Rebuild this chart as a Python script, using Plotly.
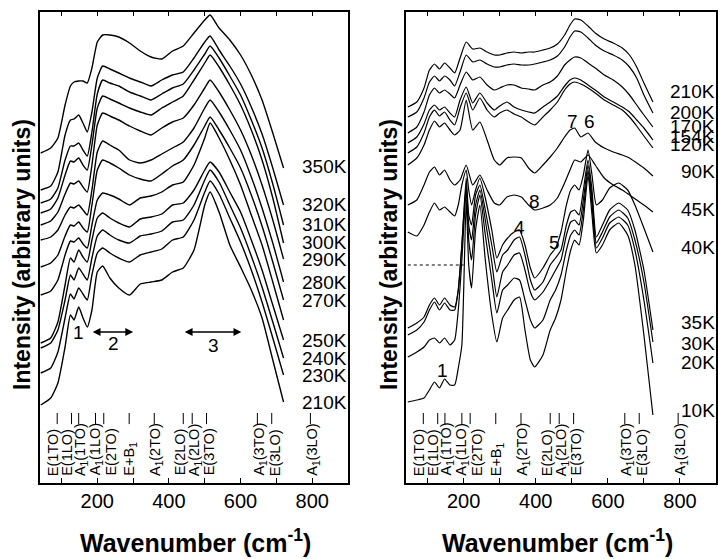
import plotly.graph_objects as go

FONT = "Liberation Sans, Arial, sans-serif"

# ---------------- Left panel (210 K - 350 K) ----------------
WN_LEFT = [42, 70, 90, 110, 125, 135, 148, 160, 172, 185, 200, 215, 235, 260, 290,
           320, 350, 380, 410, 440, 470, 500, 515, 540, 570, 600, 630, 660, 690, 720]

L350K = [327, 332, 342, 375, 394, 398, 399, 399, 397, 412, 438, 445, 445, 443, 437,
         429, 423, 421, 429, 434, 447, 460, 465, 452, 440, 425, 405, 380, 347, 312]
L320K = [290, 294, 308, 345, 360, 361, 365, 357, 348, 368, 402, 414, 411, 407, 402,
         398, 394, 400, 405, 408, 422, 438, 444, 430, 414, 396, 373, 346, 312, 275]
L310K = [277, 281, 292, 320, 334, 334, 337, 330, 324, 348, 386, 400, 397, 394, 388,
         384, 380, 386, 392, 396, 410, 426, 434, 422, 404, 385, 360, 332, 296, 255]
L300K = [267, 271, 282, 305, 319, 318, 322, 315, 310, 335, 372, 384, 381, 377, 372,
         368, 365, 372, 378, 384, 400, 417, 425, 413, 395, 375, 350, 320, 282, 237]
L290K = [255, 259, 268, 286, 297, 296, 299, 293, 288, 315, 355, 367, 364, 360, 354,
         349, 345, 352, 358, 362, 375, 392, 400, 388, 370, 350, 325, 295, 260, 221]
L280K = [240, 243, 250, 265, 273, 272, 275, 270, 265, 290, 328, 339, 335, 330, 320,
         317, 320, 326, 332, 338, 352, 372, 380, 368, 350, 330, 303, 272, 237, 198]
L270K = [213, 217, 225, 244, 255, 254, 258, 252, 248, 275, 310, 320, 317, 312, 305,
         301, 299, 306, 314, 320, 335, 354, 363, 350, 332, 312, 285, 254, 218, 180]
L260K = [185, 189, 200, 225, 239, 238, 242, 236, 232, 255, 280, 287, 285, 281, 275,
         282, 284, 288, 295, 298, 315, 342, 357, 342, 320, 295, 265, 235, 198, 160]
L250K = [137, 142, 158, 195, 222, 218, 230, 223, 218, 240, 262, 267, 262, 257, 253,
         261, 263, 266, 275, 277, 290, 310, 318, 308, 288, 268, 240, 210, 175, 140]
L240K = [132, 137, 150, 180, 205, 200, 212, 206, 200, 222, 244, 250, 245, 240, 237,
         244, 246, 249, 258, 260, 275, 300, 310, 298, 275, 252, 224, 193, 158, 122]
L230K = [107, 112, 128, 162, 186, 181, 192, 186, 180, 205, 227, 232, 227, 222, 218,
         225, 228, 231, 240, 243, 260, 288, 299, 286, 262, 238, 210, 178, 142, 105]
L210K = [75, 82, 97, 133, 165, 160, 173, 162, 153, 170, 208, 214, 202, 192, 185,
         196, 198, 200, 208, 212, 230, 275, 288, 268, 235, 213, 190, 162, 120, 78]

LEFT_SERIES = [("350K", L350K), ("320K", L320K), ("310K", L310K), ("300K", L300K),
               ("290K", L290K), ("280K", L280K), ("270K", L270K), ("", L260K),
               ("250K", L250K), ("240K", L240K), ("230K", L230K), ("210K", L210K)]

# ---------------- Right panel (10 K - 210 K) ----------------
WN_RIGHT_A = [45, 70, 90, 105, 119, 133, 147, 162, 175, 190, 207, 225, 245, 265, 285,
              300, 320, 340, 360, 380, 397, 420, 440, 460, 480, 495, 508, 525, 545,
              565, 590, 615, 640, 660, 680, 700, 725]

R210K = [373, 378, 392, 410, 416, 411, 417, 412, 407, 422, 438, 431, 432, 428, 425,
         425, 427, 428, 427, 428, 428, 430, 432, 436, 445, 455, 461, 460, 454,
         447, 441, 437, 432, 425, 413, 397, 378]
R200K = [363, 368, 382, 398, 404, 399, 404, 400, 394, 408, 425, 418, 420, 416, 413,
         413, 415, 416, 415, 415, 416, 418, 420, 424, 433, 443, 449, 448, 442,
         435, 429, 425, 420, 413, 402, 385, 367]
R170K = [347, 353, 368, 385, 392, 387, 390, 386, 382, 395, 408, 400, 403, 395, 390,
         392, 395, 395, 392, 391, 390, 395, 398, 404, 415, 420, 423, 422, 417,
         412, 405, 400, 393, 385, 375, 365, 353]
R154K = [337, 343, 356, 370, 375, 370, 373, 367, 363, 380, 393, 377, 387, 377, 370,
         374, 378, 373, 370, 368, 367, 373, 378, 384, 394, 400, 402, 400, 395,
         390, 383, 378, 373, 368, 360, 352, 340]
R120K = [327, 333, 347, 363, 370, 364, 368, 360, 355, 372, 387, 370, 382, 370, 363,
         367, 370, 366, 363, 358, 355, 363, 370, 378, 390, 396, 398, 396, 392,
         387, 380, 375, 370, 363, 354, 344, 332]
R90K = [315, 322, 335, 350, 359, 353, 357, 350, 345, 350, 380, 350, 358, 340, 320,
        315, 322, 323, 322, 312, 307, 315, 323, 332, 343, 350, 352, 343, 347,
        338, 332, 328, 325, 322, 317, 312, 304]
R45K = [275, 280, 295, 308, 313, 305, 310, 300, 295, 300, 315, 295, 305, 290, 277,
        275, 283, 285, 283, 275, 270, 272, 275, 282, 297, 310, 320, 318, 325,
        315, 302, 295, 290, 285, 280, 275, 268]

WN_RIGHT_B = [45, 70, 90, 105, 119, 133, 147, 162, 175, 185, 195, 207, 214, 222, 233,
              245, 260, 278, 292, 308, 322, 340, 355, 370, 385, 397, 420, 440, 455,
              470, 485, 497, 508, 520, 532, 545, 556, 568, 585, 605, 630, 655, 675,
              700, 725]

R40K = [248, 244, 255, 268, 277, 270, 273, 268, 264, 275, 295, 310, 290, 275, 290,
        302, 282, 250, 222, 235, 242, 248, 250, 235, 212, 202, 212, 225, 232,
        248, 275, 290, 295, 290, 305, 330, 305, 275, 280, 292, 297, 290, 275,
        252, 228]
R35K = [152, 157, 163, 175, 182, 175, 182, 175, 173, 190, 235, 302, 265, 255, 285,
        295, 270, 235, 208, 225, 230, 240, 243, 225, 200, 190, 198, 215, 222,
        230, 255, 268, 270, 265, 290, 320, 290, 243, 255, 270, 277, 270, 250,
        210, 150]
R30K = [145, 150, 158, 170, 178, 170, 177, 170, 170, 190, 235, 295, 255, 240, 275,
        290, 260, 218, 183, 208, 215, 225, 227, 210, 188, 180, 188, 200, 210,
        220, 245, 258, 260, 255, 280, 315, 282, 237, 248, 263, 270, 262, 240,
        198, 138]
R20K = [123, 128, 133, 140, 142, 137, 142, 135, 140, 170, 220, 290, 240, 220, 265,
        285, 245, 200, 167, 190, 195, 202, 200, 180, 160, 152, 160, 180, 190,
        205, 230, 245, 250, 245, 270, 310, 275, 232, 242, 257, 263, 255, 230,
        180, 117]
R10K = [78, 80, 82, 90, 98, 92, 101, 95, 95, 112, 135, 280, 215, 192, 250,
        275, 220, 165, 138, 162, 170, 180, 183, 150, 120, 113, 125, 150, 162,
        180, 210, 230, 240, 235, 260, 305, 265, 227, 235, 250, 257, 245, 215,
        145, 65]

RIGHT_SERIES_A = [("210K", R210K), ("200K", R200K), ("170K", R170K), ("154K", R154K),
                  ("120K", R120K), ("90K", R90K), ("45K", R45K)]
RIGHT_SERIES_B = [("40K", R40K), ("35K", R35K), ("30K", R30K), ("20K", R20K), ("10K", R10K)]

DOTTED_WN = [45, 200]
DOTTED_LEVEL = [215, 215]

# Phonon mode assignments
MODE_POS = [88, 128, 148, 195, 218, 289, 359, 440, 465, 505, 647, 687, 795]
MODE_TEXT = ["E(1TO)", "E(1LO)", "A<sub>1</sub>(1TO)", "A<sub>1</sub>(1LO)", "E(2TO)",
             "E+B<sub>1</sub>", "A<sub>1</sub>(2TO)", "E(2LO)", "A<sub>1</sub>(2LO)",
             "E(3TO)", "A<sub>1</sub>(3TO)", "E(3LO)", "A<sub>1</sub>(3LO)"]
MODE_TEXT_X = [76, 117, 154, 195, 239, 291, 366, 431, 471, 512, 655, 696, 802]

TICK_VALS = [100, 200, 300, 400, 500, 600, 700, 800]
TICK_TEXT = ["", "200", "", "400", "", "600", "", "800"]

# label positions (layout)
LEFT_LABEL_Y = {"350K": 313, "320K": 275, "310K": 255, "300K": 237, "290K": 221,
                "280K": 198, "270K": 180, "250K": 140, "240K": 122, "230K": 105, "210K": 78}
RIGHT_LABEL_Y = {"210K": 388, "200K": 367, "170K": 353, "154K": 343, "120K": 335,
                 "90K": 308, "45K": 270, "40K": 232, "35K": 158, "30K": 137,
                 "20K": 118, "10K": 70}

fig = go.Figure()
left_style = dict(color="black", width=1.4, shape="spline", smoothing=0.5)
right_style = dict(color="black", width=1.2, shape="spline", smoothing=0.5)

for name, ys in LEFT_SERIES:
    fig.add_trace(go.Scatter(x=WN_LEFT, y=ys, mode="lines", line=left_style,
                             xaxis="x", yaxis="y", showlegend=False, hoverinfo="skip"))
for name, ys in RIGHT_SERIES_A:
    fig.add_trace(go.Scatter(x=WN_RIGHT_A, y=ys, mode="lines", line=right_style,
                             xaxis="x2", yaxis="y2", showlegend=False, hoverinfo="skip"))
for name, ys in RIGHT_SERIES_B:
    fig.add_trace(go.Scatter(x=WN_RIGHT_B, y=ys, mode="lines", line=right_style,
                             xaxis="x2", yaxis="y2", showlegend=False, hoverinfo="skip"))
fig.add_trace(go.Scatter(x=DOTTED_WN, y=DOTTED_LEVEL, mode="lines",
                         line=dict(color="black", width=1, dash="dot"),
                         xaxis="x2", yaxis="y2", showlegend=False, hoverinfo="skip"))

W, H = 718, 559
ydom = [1 - 482.5 / H, 1 - 11.5 / H]
common_x = dict(range=[40, 900], tickvals=TICK_VALS, ticktext=TICK_TEXT, ticks="inside",
                ticklen=5, tickwidth=1, tickcolor="black", showline=True, mirror="ticks",
                linecolor="black", linewidth=1.5, showgrid=False, zeroline=False,
                tickfont=dict(family=FONT, size=20, color="black"))
common_y = dict(range=[-2.5, 468.5], domain=ydom, showticklabels=False, ticks="",
                showline=True, mirror=True, linecolor="black", linewidth=1.5,
                showgrid=False, zeroline=False)

annotations = []
shapes = []
for xa, ya, labels, series in [("x", "y", LEFT_LABEL_Y, LEFT_SERIES),
                                ("x2", "y2", RIGHT_LABEL_Y, RIGHT_SERIES_A + RIGHT_SERIES_B)]:
    for name, ys in series:
        if not name:
            continue
        annotations.append(dict(xref=xa + " domain", yref=ya, x=1.0, y=labels[name],
                                text=name, showarrow=False, xanchor="right", yanchor="middle",
                                xshift=1, font=dict(family=FONT, size=19, color="black")))
    for pos in MODE_POS:
        shapes.append(dict(type="line", xref=xa, yref=ya + " domain", x0=pos, x1=pos,
                           y0=0.124, y1=0.1476, line=dict(color="black", width=1)))
    for tx, txt in zip(MODE_TEXT_X, MODE_TEXT):
        annotations.append(dict(xref=xa, yref=ya + " domain", x=tx, y=0.010, text=txt,
                                textangle=-90, showarrow=False, xanchor="center",
                                yanchor="bottom", font=dict(family=FONT, size=14.5, color="black")))

# numbered features
def num(xa, ya, x, y, t):
    annotations.append(dict(xref=xa, yref=ya, x=x, y=y, text=t, showarrow=False,
                            font=dict(family=FONT, size=19, color="black")))

num("x", "y", 147, 148, "1")
num("x", "y", 245, 137, "2")
num("x", "y", 524, 135, "3")
num("x2", "y2", 142, 110, "1")
num("x2", "y2", 356, 252, "4")
num("x2", "y2", 453, 237, "5")
num("x2", "y2", 550, 358, "6")
num("x2", "y2", 503, 358, "7")
num("x2", "y2", 397, 278, "8")

for x0, x1 in [(183, 300), (440, 602)]:
    annotations.append(dict(xref="x", yref="y", axref="x", ayref="y", x=x1, y=148,
                            ax=x0, ay=148, showarrow=True, arrowside="end+start",
                            arrowhead=2, arrowsize=1.2, arrowwidth=1.3, arrowcolor="black",
                            text=""))

# axis titles
for cx in [22 / W, 389 / W]:
    annotations.append(dict(xref="paper", yref="paper", x=cx, y=1 - 255 / H,
                            text="<b>Intensity (arbitrary units)</b>", textangle=-90,
                            showarrow=False, xanchor="center", yanchor="middle",
                            font=dict(family=FONT, size=23, color="black")))
for cx in [195 / W, 557 / W]:
    annotations.append(dict(xref="paper", yref="paper", x=cx, y=1 - 541 / H,
                            text="<b>Wavenumber (cm<sup>-1</sup>)</b>",
                            showarrow=False, xanchor="center", yanchor="middle",
                            font=dict(family=FONT, size=25, color="black")))

fig.update_layout(
    width=W, height=H, margin=dict(l=0, r=0, t=0, b=0),
    paper_bgcolor="white", plot_bgcolor="white", showlegend=False,
    xaxis=dict(domain=[40 / W, 348 / W], anchor="y", **common_x),
    yaxis=dict(anchor="x", **common_y),
    xaxis2=dict(domain=[406 / W, 716 / W], anchor="y2", **common_x),
    yaxis2=dict(anchor="x2", **common_y),
    annotations=annotations, shapes=shapes,
    font=dict(family=FONT, color="black"),
)

fig.write_html("out.html")
